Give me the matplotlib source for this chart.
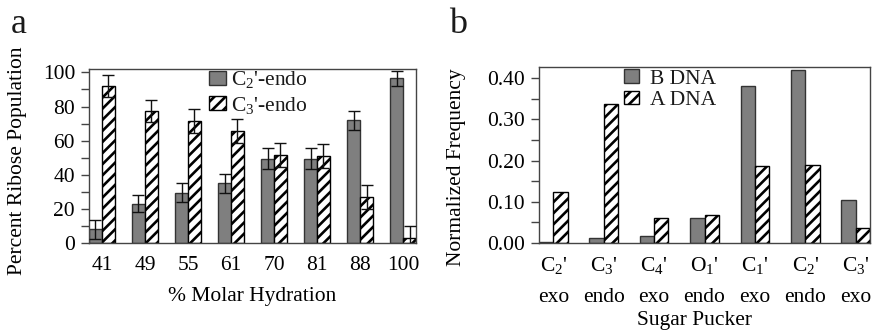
import matplotlib
matplotlib.use("Agg")
import matplotlib.pyplot as plt
import numpy as np

plt.rcParams["font.family"] = ["Liberation Serif", "DejaVu Serif"]
plt.rcParams["mathtext.fontset"] = "custom"
plt.rcParams["mathtext.rm"] = "Liberation Serif"
plt.rcParams["mathtext.it"] = "Liberation Serif"
plt.rcParams["mathtext.default"] = "rm"
plt.rcParams["hatch.linewidth"] = 1.9
plt.rcParams["text.color"] = "#1a1a1a"

# Panel a: ribose pucker populations vs. hydration
hydration = ["41", "49", "55", "61", "70", "81", "88", "100"]
c2_endo = [8, 23, 29.5, 35, 49.5, 49.5, 72, 96.5]
c2_endo_err = [5.5, 5, 5.5, 5.5, 6, 6, 5.5, 4.5]
c3_endo = [92, 77.5, 71.5, 65.5, 51.5, 51, 27, 3]
c3_endo_err = [6.5, 6.5, 7, 7, 7, 7, 7, 7]

# Panel b: sugar pucker frequencies in B and A DNA
puckers = ["C$_2$'\nexo", "C$_3$'\nendo", "C$_4$'\nexo", "O$_1$'\nendo",
           "C$_1$'\nexo", "C$_2$'\nendo", "C$_3$'\nexo"]
b_dna = [0.002, 0.013, 0.018, 0.060, 0.382, 0.419, 0.105]
a_dna = [0.123, 0.337, 0.061, 0.068, 0.186, 0.189, 0.036]

GRAY = "#7f7f7f"
EDGE = "#333333"
FS = 15.5

fig = plt.figure(figsize=(8.75, 3.3), dpi=100)
ax1 = fig.add_axes([89 / 875, 1 - 243 / 330, 327 / 875, 174 / 330])
ax2 = fig.add_axes([539 / 875, 1 - 243 / 330, 331 / 875, 176 / 330])


def style_axes(ax):
    for s in ax.spines.values():
        s.set_color("#444444")
        s.set_linewidth(1.0)
    ax.tick_params(axis="y", which="both", direction="out", length=6,
                   width=1, color="#444444", labelsize=FS, pad=4)
    ax.tick_params(axis="x", which="both", length=0, labelsize=FS, pad=9)


# ---- panel a ----
w1 = 0.3
x1 = np.arange(len(hydration))
ax1.bar(x1 - w1 / 2, c2_endo, w1, color=GRAY, edgecolor=EDGE, linewidth=1,
        label="C$_2$'-endo", zorder=2)
ax1.bar(x1 + w1 / 2, c3_endo, w1, color="white", edgecolor="black",
        hatch="///", linewidth=1, label="C$_3$'-endo", zorder=2)
ax1.errorbar(x1 - w1 / 2, c2_endo, yerr=c2_endo_err, fmt="none",
             ecolor="#111111", elinewidth=1, capsize=4, capthick=1, zorder=3)
ax1.errorbar(x1 + w1 / 2, c3_endo, yerr=c3_endo_err, fmt="none",
             ecolor="#111111", elinewidth=1, capsize=4, capthick=1, zorder=3)
ax1.set_xlim(-w1, len(hydration) - 1 + w1)
ax1.set_ylim(0, 102)
ax1.set_yticks(np.arange(0, 101, 20))
ax1.set_yticks(np.arange(10, 100, 20), minor=True)
ax1.set_xticks(x1)
ax1.set_xticklabels(hydration)
style_axes(ax1)
ax1.set_ylabel("Percent Ribose Population", fontsize=FS)
ax1.yaxis.set_label_coords(-0.19, 0.47)
ax1.set_xlabel("% Molar Hydration", fontsize=FS)
ax1.xaxis.set_label_coords(0.5, -0.25)
ax1.legend(loc="upper left", bbox_to_anchor=(0.36, 1.01), frameon=False,
           fontsize=FS, handlelength=0.8, handleheight=0.65,
           handletextpad=0.25, borderpad=0.1, borderaxespad=0,
           labelspacing=0.2)

# ---- panel b ----
w2 = 0.285
x2 = np.arange(len(puckers))
ax2.bar(x2 - w2 / 2, b_dna, w2, color=GRAY, edgecolor=EDGE, linewidth=1,
        label="B DNA", zorder=2)
ax2.bar(x2 + w2 / 2, a_dna, w2, color="white", edgecolor="black",
        hatch="///", linewidth=1, label="A DNA", zorder=2)
ax2.set_xlim(-w2, len(puckers) - 1 + w2)
ax2.set_ylim(0, 0.427)
ax2.set_yticks(np.arange(0, 0.41, 0.10))
ax2.set_yticks(np.arange(0.05, 0.40, 0.10), minor=True)
ax2.set_yticklabels([f"{v:.2f}" for v in np.arange(0, 0.41, 0.10)])
ax2.set_xticks(x2)
ax2.set_xticklabels(puckers, linespacing=1.85)
style_axes(ax2)
ax2.set_ylabel("Normalized Frequency", fontsize=FS)
ax2.yaxis.set_label_coords(-0.22, 0.43)
ax2.set_xlabel("Sugar Pucker", fontsize=FS, labelpad=0)
ax2.xaxis.set_label_coords(0.47, -0.385)
ax2.legend(loc="upper left", bbox_to_anchor=(0.25, 1.0), frameon=False,
           fontsize=FS, handlelength=0.7, handleheight=0.6,
           handletextpad=0.5, borderpad=0.1, borderaxespad=0,
           labelspacing=0.1)

fig.text(11 / 875, 1 - 33 / 330, "a", fontsize=26, va="baseline")
fig.text(449 / 875, 1 - 33 / 330, "b", fontsize=26, va="baseline")

fig.savefig("out.png", dpi=100)
